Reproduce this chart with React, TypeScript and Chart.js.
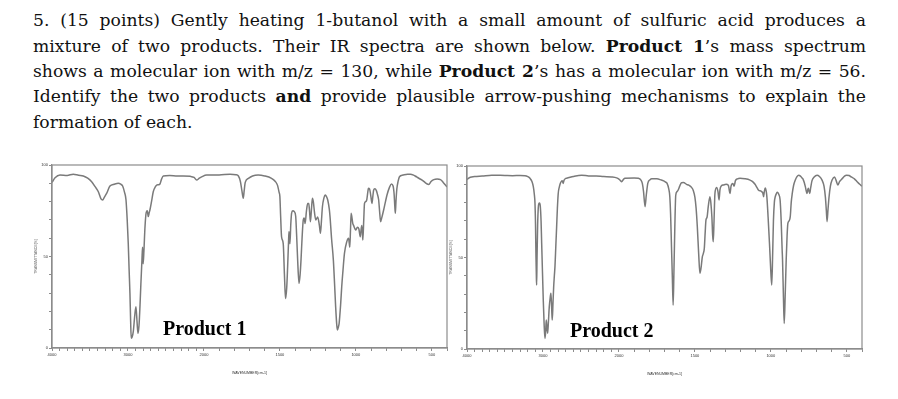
import React, { useEffect, useRef } from 'react';
import { Chart, registerables } from 'chart.js';

Chart.register(...registerables);

// ---- data: Product 1 IR spectrum (wavenumber cm-1, %T)
const wave1 = [4000,3960,3895,3800,3720,3650,3588,3530,3478,3430,3390,3355,3333,3310,3281,3237,3180,3127,3095,3070,3045,3026,3010,2996,2985,2974,2965,2957,2945,2930,2910,2895,2880,2868,2855,2842,2830,2816,2808,2800,2790,2776,2760,2745,2733,2720,2711,2690,2667,2640,2622,2600,2579,2560,2535,2450,2350,2272,2180,2130,2096,2060,2030,1982,1900,1828,1790,1773,1760,1750,1741,1735,1728,1707,1680,1643,1600,1555,1530,1516,1505,1500,1495,1489,1478,1470,1463,1455,1449,1443,1440,1434,1428,1423,1415,1405,1396,1390,1383,1374,1367,1361,1354,1346,1340,1334,1325,1317,1310,1305,1299,1292,1286,1280,1272,1264,1251,1240,1233,1226,1220,1210,1203,1195,1185,1175,1170,1160,1148,1140,1133,1125,1121,1115,1110,1100,1093,1085,1075,1060,1048,1043,1040,1035,1031,1020,1015,1005,1000,990,980,971,965,961,957,954,948,943,935,928,920,917,910,903,898,894,888,883,875,865,858,850,843,837,830,817,805,795,780,766,755,748,744,740,736,730,722,713,690,660,641,620,600,580,564,545,530,520,505,487,465,443,425,410,400];
const trans1 = [90.5,93,94.5,94.3,95,94.4,94,92.8,90.9,88,85.4,81.5,80.9,82.5,84.5,88.5,89.5,90,89.5,88.5,85,81,70,57,43,30,15,5.3,6,9,18,22.6,14,8,12,22.6,35,48,55,46,53,66,74,75,71.8,74,75.4,80,85.4,88,89,89.2,89.6,92,94,94.3,94,94,93.8,93.2,91.8,92.8,93.5,94.5,94.5,95,94.7,94,91,86,81.8,86,90.5,92.7,94,94.5,94,92.7,91,89,85,82.7,72,60.8,57,40,27,33,44.4,58,63.6,57,68,73.6,75,74.5,72,62,48,35.3,40,48,60,70,71,68,75,79,79,75,69,76,81.8,80,74,70,71.6,67,62.7,70,77.2,82,83.6,83,80.9,76,71.8,60,48,35,22.6,12,9.8,11.5,13.5,24,33.5,42,51.7,58,60,57,55,65,73.6,68,67,65,64.5,66,65,60.8,65,67,63,59,70,79,80,81,86,87.3,87,84,81,79,83,86.2,87,86,84,81,74,69,71,75.4,80,83.6,87.5,89.6,88.5,84,78,73.6,80,87,91,93.6,94.5,95,95,94.5,93.5,92.5,91.8,90.5,89.6,89.4,91,92,92.3,92,90.5,89,88];

// ---- data: Product 2 IR spectrum (wavenumber cm-1, %T)
const wave2 = [4000,3983,3900,3800,3675,3500,3400,3300,3237,3200,3171,3145,3127,3115,3105,3098,3092,3086,3083,3078,3070,3062,3053,3045,3035,3025,3017,3005,2996,2985,2974,2965,2957,2948,2938,2928,2917,2905,2895,2885,2878,2868,2859,2850,2842,2830,2820,2810,2799,2785,2772,2760,2746,2738,2733,2725,2700,2688,2600,2491,2400,2300,2200,2096,2030,2000,1990,1982,1970,1960,1900,1872,1855,1846,1838,1828,1820,1810,1795,1784,1750,1720,1709,1695,1683,1672,1665,1660,1654,1648,1643,1638,1632,1626,1618,1610,1600,1588,1575,1555,1540,1522,1510,1500,1492,1484,1475,1467,1460,1451,1445,1438,1432,1427,1420,1412,1401,1395,1388,1383,1379,1374,1368,1357,1348,1341,1335,1325,1313,1295,1280,1275,1269,1262,1250,1242,1233,1220,1203,1170,1137,1120,1104,1090,1082,1060,1052,1048,1043,1037,1030,1026,1018,1009,1000,994,988,983,977,971,963,956,948,939,932,926,923,917,912,906,899,893,888,880,872,866,859,850,839,828,817,805,795,789,780,773,766,762,757,753,748,744,738,729,715,696,680,663,650,641,635,630,624,617,608,597,581,570,559,548,531,515,502,485,471,450,432,415,400];
const trans2 = [92.5,93.3,94.2,94.5,95,94.8,94.7,94.8,94.7,94.2,93.3,91.5,88.7,85,79.6,68,50.4,38,35,50,68,77,79.6,79.8,78,70,57.8,40,26.8,14,5.8,9,15.8,12,8.6,15,23,28,30.4,22,15.8,25,34,40,45,57,66.8,77,85,88.5,90.5,91.5,92,91,90.5,92,93.2,93.3,94.3,95,94.6,94.5,94.2,94,93.5,92.8,92,91.4,92.7,93.3,93.5,93.3,92.3,90.5,86,77.8,84,90.5,92.5,93,93,92.3,92,91.3,90.5,87.5,83.2,74,56,38,24,42,66.8,84,86,86.9,89,90.9,91,90,89.5,88.3,86.5,83,77,66.8,52,41.4,44,50.4,52,55,64,70.5,72,77.8,83.2,80,72,62,58.6,70,85,88.3,86,81.4,87,89.2,89.6,90,89.5,87.5,85,89,90.5,89,92,93,93.3,93,92.3,91.5,90,88,86.9,86,85,83.2,86,88,86,83,72,57.8,42,35,52,70,80,83.2,85,85.6,84.5,81.4,70,55,48.6,28,14,28,48.6,62,68.7,70,72.5,80,85,89.5,92.3,94.2,95,94.5,93.5,93,91,88.7,86,85,87,87.8,86,85,88,92,94,95,94.3,92.3,89,83,76,69.6,76,83,89,92.3,94,92,89.6,91.5,93,94.5,95,94.8,94,93,91.4,90,89];

// ---- axis labels
const xTickLabels = [4000, 3000, 2000, 1500, 1000, 500];
const yTickLabels = [0, 50, 100];
const xMinorStep = 100;
const xTitle = 'WAVENUMBER[cm-1]';
const yTitle = 'TRANSMITTANCE[%]';

// SDBS-style axis: 4000-2000 at one scale, 2000-400 at double scale
const toAxis = (w: number) => (w >= 2000 ? (4000 - w) / 1000 : 2 + (2000 - w) / 500);
const fromAxis = (u: number) => (u <= 2 ? 4000 - u * 1000 : 2000 - (u - 2) * 500);

const tickWaves: number[] = [];
for (let w = 4000; w >= 400; w -= xMinorStep) tickWaves.push(w);

const framePlugin = {
  id: 'frame',
  afterDraw(chart: any) {
    const { ctx, chartArea } = chart;
    ctx.save();
    ctx.strokeStyle = '#8c8c8c';
    ctx.lineWidth = 1.2;
    ctx.strokeRect(chartArea.left, chartArea.top, chartArea.right - chartArea.left, chartArea.bottom - chartArea.top);
    ctx.restore();
  },
};

function Spectrum({ waves, trans, left, top }: { waves: number[]; trans: number[]; left: number; top: number }) {
  const ref = useRef<HTMLCanvasElement>(null);
  useEffect(() => {
    if (!ref.current) return;
    const chart = new Chart(ref.current, {
      type: 'line',
      data: {
        datasets: [
          {
            data: waves.map((w, i) => ({ x: toAxis(w), y: trans[i] })),
            borderColor: '#7a7a7a',
            borderWidth: 1.5,
            pointRadius: 0,
            fill: false,
            cubicInterpolationMode: 'monotone',
          },
        ],
      },
      options: {
        responsive: false,
        animation: false,
        events: [],
        layout: { padding: { top: 15, right: 8, left: 34, bottom: 0 } },
        plugins: { legend: { display: false }, tooltip: { enabled: false } },
        scales: {
          x: {
            type: 'linear',
            min: 0,
            max: toAxis(400),
            afterBuildTicks: (s: any) => {
              s.ticks = tickWaves.map((w) => ({ value: toAxis(w) }));
            },
            afterFit: (s: any) => {
              s.height = 27;
            },
            grid: { drawOnChartArea: false, drawTicks: true, tickLength: 3, color: '#8c8c8c' },
            border: { color: '#8c8c8c', width: 1.2 },
            ticks: {
              autoSkip: false,
              maxRotation: 0,
              padding: 1,
              color: '#333',
              font: { size: 4, family: 'Liberation Sans' },
              callback: (v: any) => {
                const w = Math.round(fromAxis(Number(v)));
                return xTickLabels.includes(w) ? String(w) : '';
              },
            },
            title: {
              display: true,
              text: xTitle,
              color: '#333',
              font: { size: 3.5, family: 'Liberation Sans' },
              padding: { top: 1, bottom: 0 },
            },
          },
          y: {
            min: 0,
            max: 100,
            afterFit: (s: any) => {
              s.width = 18;
            },
            grid: { drawOnChartArea: false, drawTicks: true, tickLength: 3, color: '#8c8c8c' },
            border: { color: '#8c8c8c', width: 1.2 },
            ticks: {
              stepSize: 10,
              autoSkip: false,
              padding: 1,
              color: '#333',
              font: { size: 4, family: 'Liberation Sans' },
              callback: (v: any) => (yTickLabels.includes(Number(v)) ? String(v) : ''),
            },
            title: {
              display: true,
              text: yTitle,
              color: '#555',
              font: { size: 3.5, family: 'Liberation Sans' },
              padding: { top: 0, bottom: 2 },
            },
          },
        },
      } as any,
      plugins: [framePlugin],
    });
    return () => chart.destroy();
  }, [waves, trans]);
  return (
    <canvas
      ref={ref}
      width={455}
      height={225}
      style={{ position: 'absolute', left, top, width: 455, height: 225 }}
    />
  );
}

const lineStyle: React.CSSProperties = {
  position: 'absolute',
  left: 33,
  width: 833,
  height: 25.4,
  lineHeight: '25.4px',
  fontFamily: '"DejaVu Serif", serif',
  fontSize: 17.2,
  color: '#111',
  textAlign: 'justify',
  textAlignLast: 'justify' as any,
  whiteSpace: 'nowrap',
};

const labelStyle: React.CSSProperties = {
  position: 'absolute',
  fontFamily: '"Liberation Serif", serif',
  fontWeight: 'bold',
  fontSize: 20,
  lineHeight: '20px',
  color: '#000',
  whiteSpace: 'nowrap',
};

export default function App() {
  const t0 = 8.2;
  const lh = 25.4;
  return (
    <div style={{ position: 'absolute', left: 0, top: 0, width: 898, height: 399, background: '#fff', overflow: 'hidden' }}>
      <div style={{ ...lineStyle, top: t0 }}>
        5. (15 points) Gently heating 1-butanol with a small amount of sulfuric acid produces a
      </div>
      <div style={{ ...lineStyle, top: t0 + lh }}>
        mixture of two products. Their IR spectra are shown below. <b>Product 1</b>’s mass spectrum
      </div>
      <div style={{ ...lineStyle, top: t0 + 2 * lh }}>
        shows a molecular ion with m/z = 130, while <b>Product 2</b>’s has a molecular ion with m/z = 56.
      </div>
      <div style={{ ...lineStyle, top: t0 + 3 * lh }}>
        Identify the two products <b>and</b> provide plausible arrow-pushing mechanisms to explain the
      </div>
      <div style={{ ...lineStyle, top: t0 + 4 * lh, textAlignLast: 'left' as any }}>formation of each.</div>

      <Spectrum waves={wave1} trans={trans1} left={0} top={150} />
      <Spectrum waves={wave2} trans={trans2} left={415} top={151} />

      <div style={{ ...labelStyle, left: 163, top: 318 }}>Product 1</div>
      <div style={{ ...labelStyle, left: 570, top: 320 }}>Product 2</div>
    </div>
  );
}
